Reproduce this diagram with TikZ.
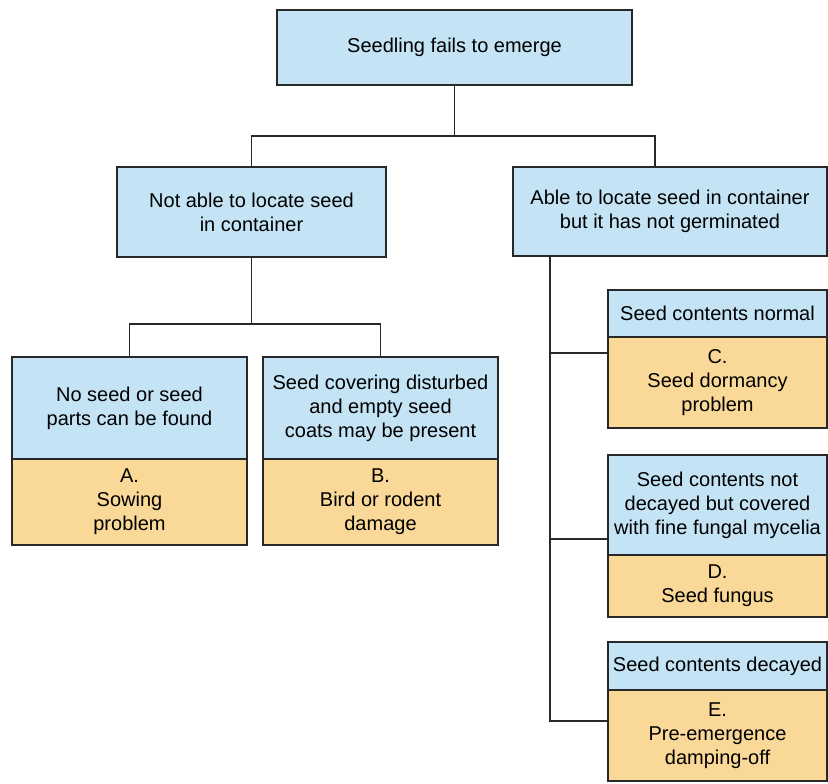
\documentclass[tikz,border=0pt]{standalone}
\usepackage{fontspec}
\setmainfont{Liberation Sans}
\usetikzlibrary{calc,positioning}
\definecolor{keyBlue}{RGB}{196,228,245}
\definecolor{causeTan}{RGB}{250,217,152}
\definecolor{lineDark}{RGB}{40,40,40}
\tikzset{
  keybox/.style={draw=lineDark,line width=.9pt,fill=keyBlue,align=center,inner sep=2pt,font=\fontsize{10}{12}\selectfont},
  causebox/.style={keybox,fill=causeTan},
  link/.style={draw=lineDark,line width=.9pt}
}

\begin{document}
\begin{tikzpicture}[x=0.5pt,y=-0.5pt]
\useasboundingbox (0,0) rectangle (828,783);
\clip (0,0) rectangle (828,783);

% question boxes
\node[keybox,minimum width=177.5pt,minimum height=37.5pt] (emerge) at (454.5,47.5) {Seedling fails to emerge};
\node[keybox,minimum width=134.5pt,minimum height=45pt] (noseed) at (251.5,212) {Not able to locate seed\\in container};
\node[keybox,minimum width=157pt,minimum height=44.5pt] (seed) at (670,211.5) {Able to locate seed in container\\but it has not germinated};

% left branch
\node[keybox,minimum width=117.5pt,minimum height=51pt] (a1) at (129.5,408) {No seed or seed\\parts can be found};
\node[causebox,minimum width=117.5pt,minimum height=43pt] (a2) at (129.5,502) {A.\\Sowing\\problem};
\node[keybox,minimum width=117.5pt,minimum height=51pt] (b1) at (380.5,408) {Seed covering disturbed\\and empty seed\\coats may be present};
\node[causebox,minimum width=117.5pt,minimum height=43pt] (b2) at (380.5,502) {B.\\Bird or rodent\\damage};

% right branch
\node[keybox,minimum width=109.5pt,minimum height=23.5pt] (c1) at (717.5,313.5) {Seed contents normal};
\node[causebox,minimum width=109.5pt,minimum height=45.5pt] (c2) at (717.5,382.5) {C.\\Seed dormancy\\problem};
\node[keybox,minimum width=109.5pt,minimum height=50pt] (d1) at (717.5,505) {Seed contents not\\decayed but covered\\with fine fungal mycelia};
\node[causebox,minimum width=109.5pt,minimum height=31pt] (d2) at (717.5,586) {D.\\Seed fungus};
\node[keybox,minimum width=109.5pt,minimum height=24pt] (e1) at (717.5,666) {Seed contents decayed};
\node[causebox,minimum width=109.5pt,minimum height=45.5pt] (e2) at (717.5,735.5) {E.\\Pre-emergence\\damping-off};

% connectors
\coordinate (seedIn) at (655,167);
\coordinate (trunk) at (550,256);
\coordinate (cIn) at (608,353);
\coordinate (dIn) at (608,539);
\coordinate (eIn) at (608,721);

\draw[link] (emerge.south) -- ++(0,50) coordinate (fork) -| (noseed.north);
\draw[link] (fork) -| (seedIn);
\draw[link] (noseed.south) -- ++(0,66) coordinate (forkAB) -| (a1.north);
\draw[link] (forkAB) -| (b1.north);
\draw[link] (trunk) |- (eIn);
\draw[link] (trunk |- cIn) -- (cIn);
\draw[link] (trunk |- dIn) -- (dIn);
\end{tikzpicture}
\end{document}
